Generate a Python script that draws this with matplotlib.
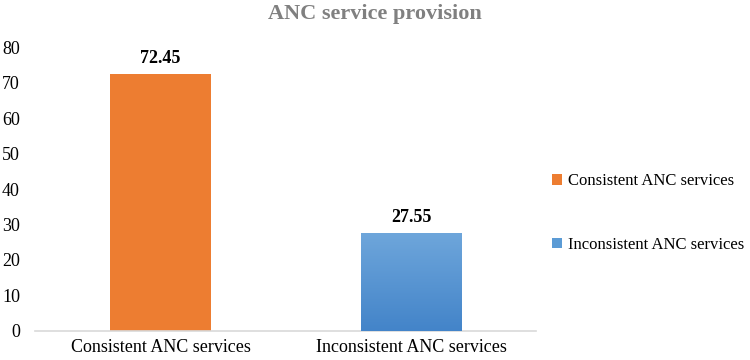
import numpy as np
import matplotlib.pyplot as plt
from matplotlib.patches import Patch
from matplotlib.colors import LinearSegmentedColormap

categories = ["Consistent ANC services", "Inconsistent ANC services"]
values = [72.45, 27.55]
colors = ["#ED7D31", "#5B9BD5"]

plt.rcParams['font.family'] = ['Liberation Serif', 'DejaVu Serif']

fig = plt.figure(figsize=(7.5, 3.6), dpi=100)
ax = fig.add_axes([0.047, 0.081, 0.668, 0.788])

x = np.arange(len(categories))
bars = ax.bar(x, values, width=0.4, color=colors, zorder=2)

# vertical gradient on the blue bar
blue_bar = bars[1]
grad = np.linspace(0, 1, 256).reshape(-1, 1)
cmap = LinearSegmentedColormap.from_list("bl", ["#4384C9", "#6EA6DB"])
bx, by = blue_bar.get_x(), blue_bar.get_y()
bw, bh = blue_bar.get_width(), blue_bar.get_height()
im = ax.imshow(grad, cmap=cmap, origin="lower", aspect="auto",
               extent=[bx, bx + bw, by, by + bh], zorder=3)
im.set_clip_path(blue_bar)

for xi, v in zip(x, values):
    ax.annotate(f"{v:.2f}", (xi, v), xytext=(0, 11), textcoords="offset points",
                ha="center", va="center", fontsize=13, fontweight="bold",
                color="black")

ax.set_xlim(-0.5, 1.5)
ax.set_ylim(0, 80)
ax.set_yticks(range(0, 81, 10))
ax.set_xticks(x)
ax.set_xticklabels(categories, fontsize=13)
ax.tick_params(axis="y", labelsize=13, length=0, pad=11)
ax.tick_params(axis="x", length=0, pad=6)
for s in ["top", "right", "left"]:
    ax.spines[s].set_visible(False)
ax.spines["bottom"].set_color("#D9D9D9")
ax.spines["bottom"].set_linewidth(1.2)

fig.text(0.5, 0.962, "ANC service provision", ha="center", va="center",
         fontsize=16, fontweight="bold", color="#808080")

handles = [Patch(facecolor=c, label=l) for c, l in zip(colors, categories)]
fig.legend(handles=handles, loc="center left", bbox_to_anchor=(0.736, 0.408),
           frameon=False, fontsize=12, handlelength=0.6, handleheight=0.6,
           handletextpad=0.35, labelspacing=2.85, borderpad=0, borderaxespad=0)

fig.savefig("out.png", dpi=100)
